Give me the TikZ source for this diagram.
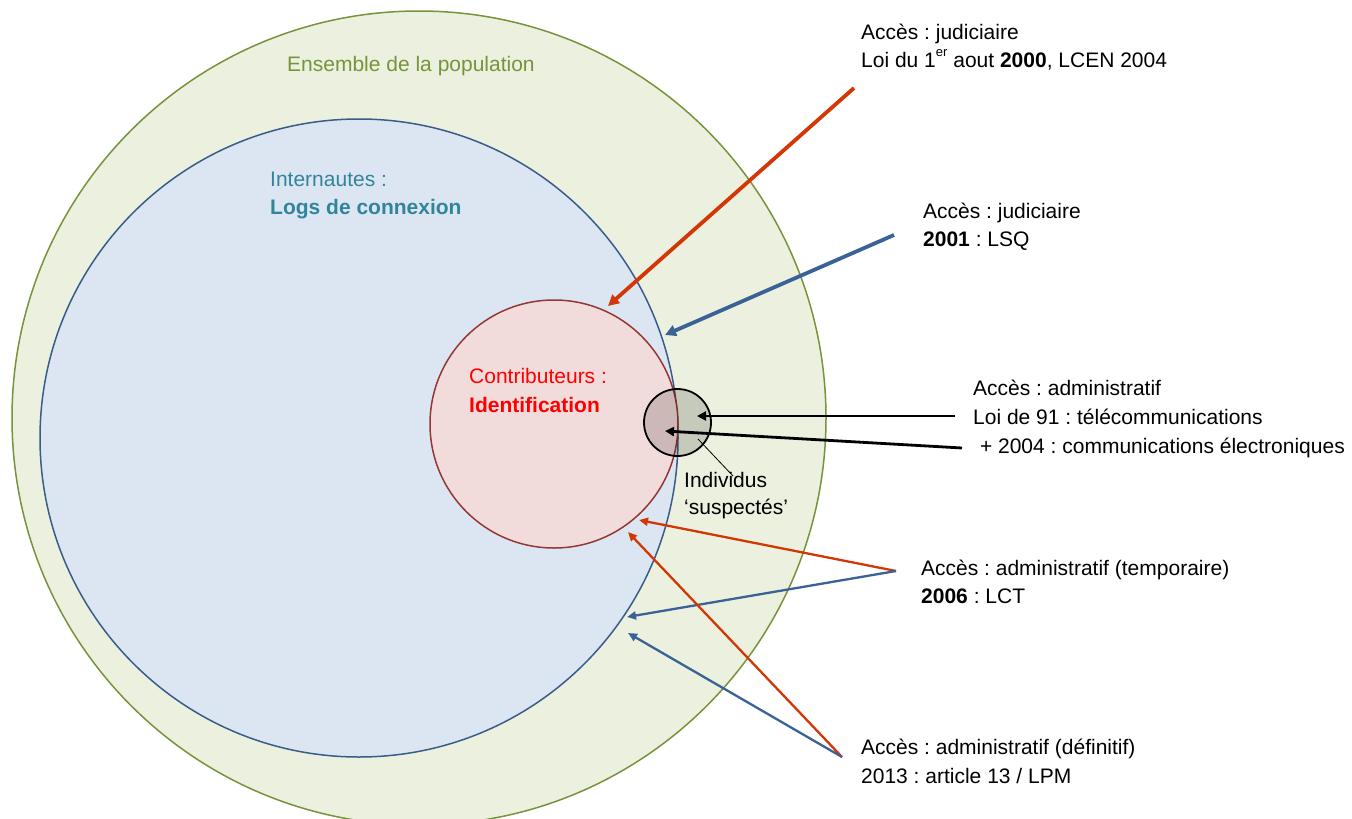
\documentclass[tikz,border=0pt]{standalone}
\usepackage{fontspec}
\setmainfont{Liberation Sans}
\usetikzlibrary{arrows.meta}
\frenchspacing
\definecolor{popfill}{RGB}{235,241,222}
\definecolor{popdraw}{RGB}{119,147,60}
\definecolor{netfill}{RGB}{220,230,242}
\definecolor{netdraw}{RGB}{56,93,138}
\definecolor{netText}{RGB}{49,133,155}
\definecolor{confill}{RGB}{242,220,219}
\definecolor{condraw}{RGB}{149,55,53}
\definecolor{arrred}{RGB}{210,55,5}
\definecolor{arrblue}{RGB}{58,98,150}
\tikzset{
  lbl/.style={anchor=base west, inner sep=0pt, font=\fontsize{21}{28}\selectfont},
  setcirc/.style={circle, inner sep=0pt, line width=1.5pt},
  thickarr/.style={line width=3.8pt, -{Triangle[length=11pt,width=11pt]}},
  midarr/.style={line width=2.8pt, -{Triangle[length=9pt,width=9pt]}},
  thinarr/.style={line width=2.3pt, -{Triangle[length=9pt,width=8pt]}},
}
\begin{document}
\begin{tikzpicture}[x=1pt,y=-1pt]
\useasboundingbox (0,0) rectangle (1352,819);
% sets
\node[setcirc, draw=popdraw, fill=popfill, minimum size=814pt] (pop) at (419,418) {};
\node[setcirc, draw=netdraw, fill=netfill, minimum size=638pt] (net) at (359,438) {};
\node[setcirc, draw=condraw, fill=confill, minimum size=248pt] (con) at (554,424) {};
\node[circle, inner sep=0pt, minimum size=67pt, draw=black, line width=1.8pt, fill=black, fill opacity=0.16] (sus) at (677.5,422.5) {};

% labels in sets
\node[lbl, text=popdraw] (tpop) at (287,71) {Ensemble de la population};
\node[lbl, text=netText] (tnet1) at (270,186) {Internautes :};
\node[lbl, text=netText, font=\fontsize{21}{28}\selectfont\bfseries] (tnet2) at (270,214) {Logs de connexion};
\node[lbl, text=red] (tcon1) at (469,383) {Contributeurs :};
\node[lbl, text=red, font=\fontsize{21}{28}\selectfont\bfseries] (tcon2) at (469,412) {Identification};
\node[lbl] (tsus1) at (684,487) {Individus};
\node[lbl] (tsus2) at (684,514) {‘suspectés’};

% right-hand labels
\node[lbl] (a1) at (861,39) {Accès : judiciaire};
\node[lbl] (a2) at (861,67) {Loi du 1\raisebox{0.5em}{\fontsize{13}{13}\selectfont er} aout \textbf{2000}, LCEN 2004};
\node[lbl] (b1) at (923,218) {Accès : judiciaire};
\node[lbl] (b2) at (923,246) {\textbf{2001} : LSQ};
\node[lbl] (c1) at (973,395) {Accès : administratif};
\node[lbl] (c2) at (973,424) {Loi de 91 : télécommunications};
\node[lbl] (c3) at (974,453) {\ + 2004 : communications électroniques};
\node[lbl] (d1) at (921,575) {Accès : administratif (temporaire)};
\node[lbl] (d2) at (921,603) {\textbf{2006} : LCT};
\node[lbl] (e1) at (861,754) {Accès : administratif (définitif)};
\node[lbl] (e2) at (861,783) {2013 : article 13 / LPM};

% connector end points
\coordinate (sA) at (854,88);   \coordinate (tA) at (608,306);
\coordinate (sB) at (894,235);  \coordinate (tB) at (665,335);
\coordinate (sC) at (955,416);  \coordinate (tC) at (697,416);
\coordinate (sD) at (962,448);  \coordinate (tD) at (665,431);
\coordinate (sE) at (896,571);  \coordinate (tE1) at (639,520); \coordinate (tE2) at (627,617);
\coordinate (sF) at (842,757);  \coordinate (tF1) at (628,532); \coordinate (tF2) at (628,633);
\coordinate (sI) at (733,476);  \coordinate (tI) at (698,439);

% connectors
\draw[thickarr, arrred] (sA) -- (tA);
\draw[thickarr, arrblue] (sB) -- (tB);
\draw[midarr, black] (sC) -- (tC);
\draw[midarr, black] (sD) -- (tD);
\draw[thinarr, arrred] (sE) -- (tE1);
\draw[thinarr, arrblue] (sE) -- (tE2);
\draw[thinarr, arrred] (sF) -- (tF1);
\draw[thinarr, arrblue] (sF) -- (tF2);
\draw[line width=0.8pt, black] (sI) -- (tI);
\end{tikzpicture}
\end{document}
